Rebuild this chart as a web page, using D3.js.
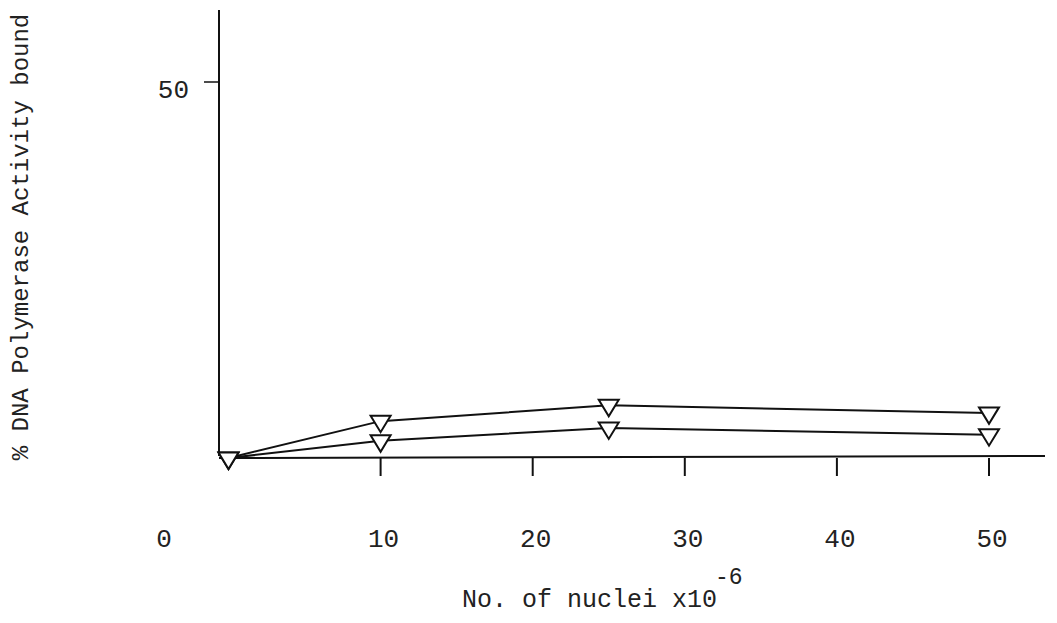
<!DOCTYPE html>
<html>
<head>
<meta charset="utf-8">
<script src="https://cdn.jsdelivr.net/npm/d3@7"></script>
<style>
  body { margin: 0; background: #fff; }
  svg { display: block; }
  text { font-family: "Liberation Mono", "DejaVu Sans Mono", monospace; fill: #222; }
</style>
</head>
<body>
<svg id="grafico" width="1057" height="623"></svg>
<script>
// valores
const nucleos = [0, 10, 25, 50];
const serieSuperior = [0, 4.9, 7.0, 6.0];
const serieInferior = [0, 2.3, 4.0, 3.1];
const ticksX = [10, 20, 30, 40, 50];
const ticksY = [50];

const svg = d3.select("#grafico");

const x = d3.scaleLinear().domain([0, 50]).range([228.5, 989]);
const y = d3.scaleLinear().domain([0, 50]).range([458, 82]);

const cor = "#111";

// eixo vertical (um pouco a esquerda do zero)
svg.append("line")
    .attr("x1", 219).attr("x2", 219)
    .attr("y1", 10).attr("y2", 456)
    .attr("stroke", cor).attr("stroke-width", 2);

// eixo horizontal
svg.append("line")
    .attr("x1", 219).attr("x2", 1045)
    .attr("y1", y(0)).attr("y2", y(0) - 2)
    .attr("stroke", cor).attr("stroke-width", 2);

// ticks do eixo x
svg.append("g").selectAll("line")
    .data(ticksX)
    .enter().append("line")
        .attr("x1", d => x(d)).attr("x2", d => x(d))
        .attr("y1", y(0)).attr("y2", y(0) + 18)
        .attr("stroke", cor).attr("stroke-width", 2);

svg.append("g").selectAll("text")
    .data(ticksX)
    .enter().append("text")
        .attr("x", d => x(d) + 3)
        .attr("y", 547)
        .attr("text-anchor", "middle")
        .attr("font-size", 26)
        .text(d => d);

// o "0" fica bem deslocado para a esquerda no original
svg.append("text")
    .attr("x", 164).attr("y", 547)
    .attr("text-anchor", "middle")
    .attr("font-size", 26)
    .text("0");

// tick do eixo y
svg.append("g").selectAll("line")
    .data(ticksY)
    .enter().append("line")
        .attr("x1", 204).attr("x2", 219)
        .attr("y1", d => y(d)).attr("y2", d => y(d))
        .attr("stroke", cor).attr("stroke-width", 1.5);

svg.append("g").selectAll("text")
    .data(ticksY)
    .enter().append("text")
        .attr("x", 189).attr("y", d => y(d) + 16)
        .attr("text-anchor", "end")
        .attr("font-size", 26)
        .text(d => d);

// titulos
const tituloX = svg.append("text")
    .attr("x", 462).attr("y", 607)
    .attr("font-size", 25);
tituloX.append("tspan").text("No. of nuclei x10");
tituloX.append("tspan").attr("dx", -2).attr("dy", -23).attr("font-size", 23).text("-6");

svg.append("text")
    .attr("transform", "translate(28,237) rotate(-90)")
    .attr("text-anchor", "middle")
    .attr("font-size", 24)
    .text("% DNA Polymerase Activity bound");

// linhas das series
const linha = d3.line()
    .x((d, i) => x(nucleos[i]))
    .y(d => y(d));

[serieSuperior, serieInferior].forEach(serie => {
    svg.append("path")
        .datum(serie)
        .attr("d", linha)
        .attr("fill", "none")
        .attr("stroke", cor)
        .attr("stroke-width", 2);
});

// triangulos invertidos, centroide no ponto
const triangulo = "M-10,-5.5L10,-5.5L0,11Z";

[serieInferior, serieSuperior].forEach(serie => {
    svg.append("g").selectAll("path")
        .data(serie)
        .enter().append("path")
            .attr("d", triangulo)
            .attr("transform", (d, i) => `translate(${x(nucleos[i])},${y(d)})`)
            .attr("fill", "#fff")
            .attr("stroke", cor)
            .attr("stroke-width", 2);
});
</script>
</body>
</html>
